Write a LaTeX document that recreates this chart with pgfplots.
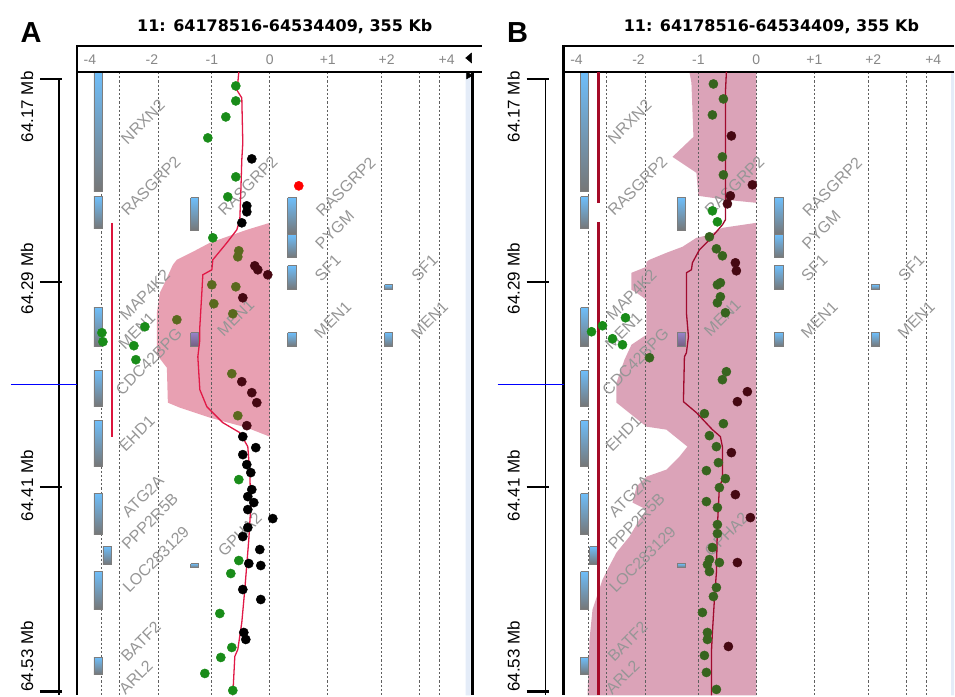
\documentclass[border=0pt]{standalone}
\usepackage{pgfplots}
\pgfplotsset{compat=1.18}
\usepackage{fontspec}
\setmainfont{Liberation Sans}
\newfontfamily\titlefont{DejaVu Sans}

\definecolor{geneblue}{RGB}{110,190,250}
\definecolor{genegray}{RGB}{118,118,118}
\definecolor{boxedge}{RGB}{125,125,125}
\definecolor{purtop}{RGB}{150,130,200}
\definecolor{purbot}{RGB}{115,95,125}
\definecolor{labgray}{RGB}{150,150,150}
\definecolor{tickgray}{RGB}{135,135,135}
\definecolor{gridc}{RGB}{95,95,95}
\definecolor{pinkA}{RGB}{232,160,178}
\definecolor{pinkB}{RGB}{219,163,184}
\definecolor{fitA}{RGB}{225,25,70}
\definecolor{fitB}{RGB}{160,10,45}
\definecolor{redA}{RGB}{220,20,60}
\definecolor{redB}{RGB}{165,10,40}
\definecolor{ptgreen}{RGB}{25,140,25}
\definecolor{ptdkgreen}{RGB}{55,100,30}
\definecolor{ptolive}{RGB}{90,105,30}
\definecolor{ptmaroon}{RGB}{70,8,18}
\definecolor{strip}{RGB}{228,236,248}

\pgfplotsset{mypanel/.style={scale only axis, width=#1pt, height=696pt,
  xmin=0, xmax=#1, ymin=0, ymax=696, y dir=reverse, hide axis,
  clip=false, anchor=south west}}

\newcommand{\gbox}[4]{\addplot[draw=boxedge, line width=0.8pt, top color=geneblue, bottom color=genegray] coordinates {(#1,#2) (#3,#2) (#3,#4) (#1,#4) (#1,#2)};}
\newcommand{\pbox}[4]{\addplot[draw=boxedge, line width=0.8pt, top color=purtop, bottom color=purbot] coordinates {(#1,#2) (#3,#2) (#3,#4) (#1,#4) (#1,#2)};}
\newcommand{\glab}[3]{\node[rotate=45, text=labgray, inner sep=0pt, font=\fontsize{16}{16}\selectfont] at (axis cs:#1,#2) {#3};}
\newcommand{\gline}[1]{\addplot[gridc, line width=0.9pt, dash pattern=on 2.2pt off 2pt] coordinates {(#1,72) (#1,696)};}
\newcommand{\htick}[2]{\node[text=tickgray, anchor=base, inner sep=0pt, font=\fontsize{14}{14}\selectfont] at (axis cs:#1,65) {#2};}
\pgfplotsset{dots/.style={only marks, mark=*, mark size=4.6, #1, mark options={draw=#1, fill=#1}}}

\newcommand{\panelstatic}[1]{%
  \gline{102}\gline{120}\gline{159}\gline{212}\gline{270}\gline{328}\gline{382}\gline{420}\gline{440}
  \addplot[black, line width=2.4pt] coordinates {(77,45) (77,696)};
  \htick{90}{-4}\htick{152}{-2}\htick{212}{-1}\htick{270}{0}\htick{328}{+1}\htick{387}{+2}\htick{447}{+4}
  \node[anchor=base, inner sep=0pt, font=\titlefont\fontsize{16}{16}\bfseries\selectfont] at (axis cs:285,32) {11: 64178516-64534409, 355 Kb};
  \node[anchor=base, inner sep=0pt, font=\fontsize{29}{29}\bfseries\selectfont] at (axis cs:31,43) {#1};
  \addplot[black, line width=1.3pt] coordinates {(59,79) (59,696)};
  \addplot[black, line width=2.2pt] coordinates {(40,79) (62,79)};
  \addplot[black, line width=2.2pt] coordinates {(40,282) (62,282)};
  \addplot[black, line width=2.2pt] coordinates {(40,487) (62,487)};
  \addplot[black, line width=2.2pt] coordinates {(40,692) (62,692)};
  \node[rotate=90, inner sep=0pt, font=\fontsize{17}{17}\selectfont] at (axis cs:27,107) {64.17 Mb};
  \node[rotate=90, inner sep=0pt, font=\fontsize{17}{17}\selectfont] at (axis cs:27,279) {64.29 Mb};
  \node[rotate=90, inner sep=0pt, font=\fontsize{17}{17}\selectfont] at (axis cs:27,486) {64.41 Mb};
  \node[rotate=90, inner sep=0pt, font=\fontsize{17}{17}\selectfont] at (axis cs:27,657) {64.53 Mb};
  \addplot[blue, line width=1.3pt] coordinates {(11,385) (77,385)};
  \gbox{94}{72}{102}{192}\gbox{94}{197}{102}{229}\gbox{94}{308}{102}{347}
  \gbox{94}{371}{102}{407}\gbox{94}{421}{102}{467}\gbox{94}{494}{102}{535}
  \gbox{103}{547}{111}{565}\gbox{94}{572}{102}{610}\gbox{94}{658}{102}{675}
  \gbox{191}{198}{199}{231}\pbox{191}{333}{199}{347}\gbox{191}{564}{199}{568}
  \gbox{288}{198}{297}{235}\gbox{288}{235}{297}{258}\gbox{288}{266}{297}{290}\gbox{288}{333}{297}{347}
  \gbox{385}{285}{393}{290}\gbox{385}{333}{393}{347}
  \glab{143}{122}{NRXN2}\glab{151}{186}{RASGRP2}\glab{145}{295}{MAP4K2}
  \glab{137}{331}{MEN1}\glab{149}{362}{CDC42BPG}\glab{137}{434}{EHD1}
  \glab{143}{497}{ATG2A}\glab{150}{522}{PPP2R5B}\glab{156}{560}{LOC283129}
  \glab{141}{642}{BATF2}\glab{136}{678}{ARL2}
  \glab{248}{186}{RASGRP2}\glab{236}{318}{MEN1}\glab{240}{535}{GPHA2}
  \glab{346}{187}{RASGRP2}\glab{335}{230}{PYGM}\glab{328}{268}{SF1}\glab{333}{320}{MEN1}
  \glab{425}{268}{SF1}\glab{430}{320}{MEN1}
}

\begin{document}
\begin{tikzpicture}
% ---------------- Panel A ----------------
\begin{axis}[mypanel=487, at={(0pt,0pt)}]
  \addplot[draw=none] coordinates {(0,0) (487,696)};
  \addplot[draw=none, fill=pinkA] coordinates {(270,223) (247,230) (227,237) (210,243) (193,252) (177,260) (173,265) (163,287) (160,293) (157,313) (157,355) (167,368) (168,403) (180,408) (210,418) (247,428) (270,437) (270,223)};
  \addplot[draw=none, fill=strip] coordinates {(466,72) (471,72) (471,696) (466,696) (466,72)};
  \panelstatic{A}
  \addplot[black, line width=1.6pt] coordinates {(77,46) (482,46)};
  \addplot[black, line width=1.6pt] coordinates {(77,72) (482,72)};
  \addplot[black, line width=2.4pt] coordinates {(473,72) (473,696)};
  \addplot[black, fill=black] coordinates {(466,58) (472,53) (472,63) (466,58)};
  \addplot[black, fill=black] coordinates {(467,72) (473,75.5) (467,79) (467,72)};
  \addplot[redA, line width=2pt] coordinates {(112,223) (112,437)};
  \addplot[fitA, line width=1.3pt] coordinates {(239,72) (238,83) (237,90) (242,98) (243,143) (242,160) (241,193) (240,220) (237,230) (227,243) (213,260) (212,270) (203,275) (202,293) (200,327) (200,340) (198,357) (200,390) (207,407) (223,423) (240,433) (248,447) (250,473) (251,507) (249,540) (245,590) (242,623) (238,650) (235,657) (233,696)};
  \addplot[dots=ptgreen] coordinates {(236,86) (236,101) (226,117) (208,138) (236,177) (228,197) (213,238) (145,327) (134,346) (102,333) (103,342) (136,360) (239,480) (239,561) (231,574) (220,614) (232,648) (221,658) (205,674) (233,691)};
  \addplot[dots=ptolive] coordinates {(239,251) (238,257) (212,285) (236,287) (214,304) (233,314) (177,320) (232,374) (238,416)};
  \addplot[dots=ptmaroon] coordinates {(255,266) (258,270) (268,275) (243,298) (242,382) (252,393) (257,403) (247,426)};
  \addplot[dots=black] coordinates {(252,159) (247,206) (247,212) (242,223) (243,437) (256,448) (243,455) (247,465) (251,473) (252,490) (248,497) (254,503) (248,510) (273,519) (248,528) (243,537) (260,550) (249,564) (261,566) (243,590) (261,600) (244,633) (246,640)};
  \addplot[dots=red] coordinates {(299,186)};
\end{axis}
% ---------------- Panel B ----------------
\begin{axis}[mypanel=468, at={(487pt,0pt)}]
  \addplot[draw=none] coordinates {(0,0) (468,696)};
  \addplot[draw=none, fill=pinkB] coordinates {(203,72) (270,72) (270,203) (240,200) (212,196) (210,173) (186,157) (207,137) (206,110) (205,83) (203,72)};
  \addplot[draw=none, fill=pinkB] coordinates {(270,223) (236,228) (223,235) (210,238) (196,247) (180,253) (163,260) (160,262) (160,267) (145,273) (145,290) (150,293) (160,300) (160,335) (145,345) (138,360) (130,383) (130,403) (160,427) (180,430) (201,447) (193,457) (180,470) (160,477) (150,487) (146,503) (160,510) (153,520) (143,537) (130,553) (121,570) (116,580) (106,610) (103,640) (101,696) (270,696) (270,223)};
  \addplot[draw=none, fill=strip] coordinates {(465,72) (468,72) (468,696) (465,696) (465,72)};
  \panelstatic{B}
  \addplot[black, line width=1.6pt] coordinates {(77,46) (468,46)};
  \addplot[black, line width=1.6pt] coordinates {(77,72) (468,72)};
  \addplot[redB, line width=2.5pt] coordinates {(112,72) (112,203)};
  \addplot[redB, line width=2.5pt] coordinates {(112,222) (112,696)};
  \addplot[fitB, line width=1.3pt] coordinates {(240,72) (239,93) (239,160) (239,220) (236,225) (223,240) (213,250) (206,263) (205,270) (200,273) (200,313) (202,337) (200,353) (198,357) (197,402) (210,413) (226,430) (234,437) (236,447) (236,480) (233,487) (231,527) (230,573) (228,600) (226,633) (225,653) (225,696)};
  \addplot[dots=ptgreen] coordinates {(105,332) (116,326) (139,318) (126,339) (136,345) (226,211) (231,222)};
  \addplot[dots=ptdkgreen] coordinates {(227,84) (237,99) (226,115) (236,157) (237,175) (223,237) (230,249) (236,256) (231,285) (234,283) (234,297) (231,303) (239,313) (163,358) (240,372) (236,380) (218,414) (237,424) (223,436) (230,447) (232,463) (220,471) (239,479) (233,488) (220,502) (231,508) (231,525) (231,534) (226,548) (223,560) (221,565) (223,572) (233,563) (230,588) (227,597) (216,613) (221,633) (221,640) (218,656) (220,673) (230,690)};
  \addplot[dots=ptmaroon] coordinates {(245,136) (266,185) (244,196) (241,204) (249,263) (250,271) (261,392) (251,402) (245,453) (249,495) (264,518) (251,563) (242,647)};
\end{axis}
\end{tikzpicture}
\end{document}
